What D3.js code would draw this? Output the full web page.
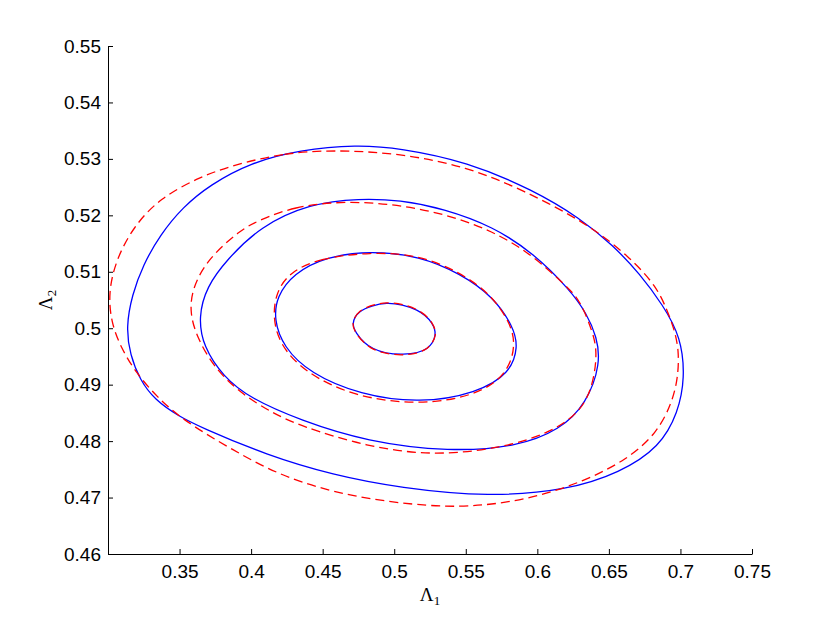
<!DOCTYPE html>
<html>
<head>
<meta charset="utf-8">
<script src="https://cdn.jsdelivr.net/npm/d3@7"></script>
<style>
  body { margin: 0; background: #fff; }
  .tick text { font-family: "Liberation Sans", Arial, sans-serif; font-size: 19px; fill: #000; }
  .lbl { font-family: "Liberation Serif", "DejaVu Serif", serif; font-size: 19px; fill: #000; }
</style>
</head>
<body>
<div id="chart"></div>
<script>
const xTicks = [0.35, 0.4, 0.45, 0.5, 0.55, 0.6, 0.65, 0.7, 0.75];
const yTicks = [0.46, 0.47, 0.48, 0.49, 0.5, 0.51, 0.52, 0.53, 0.54, 0.55];

// blue solid contours ([x, y])
const blue1 = [[0.4947,0.5044],[0.4761,0.5029],[0.4714,0.5009],[0.4738,0.4991],[0.4854,0.4964],[0.5063,0.4954],
  [0.5227,0.4964],[0.5285,0.4988],[0.5262,0.5009],[0.5157,0.5032]];
const blue2 = [[0.4831,0.5137],[0.4528,0.5127],[0.4295,0.5097],[0.4179,0.5056],[0.4160,0.5015],[0.4225,0.4967],
  [0.4411,0.4920],[0.4761,0.4882],[0.5180,0.4867],[0.5576,0.4885],[0.5809,0.4920],[0.5867,0.4967],
  [0.5832,0.5003],[0.5692,0.5056],[0.5460,0.5097],[0.5180,0.5128]];
const blue3 = [[0.4761,0.5230],[0.4411,0.5221],[0.4062,0.5180],[0.3829,0.5121],[0.3690,0.5074],[0.3631,0.5020],
  [0.3666,0.4967],[0.3806,0.4914],[0.3992,0.4876],[0.4342,0.4837],[0.4808,0.4799],[0.5390,0.4781],
  [0.5856,0.4790],[0.6158,0.4820],[0.6345,0.4867],[0.6443,0.4938],[0.6415,0.4985],[0.6345,0.5026],
  [0.6228,0.5068],[0.5972,0.5133],[0.5692,0.5180],[0.5343,0.5212],[0.5040,0.5227]];
const blue4 = [[0.4738,0.5325],[0.4342,0.5316],[0.3992,0.5293],[0.3713,0.5254],[0.3524,0.5215],[0.3363,0.5165],
  [0.3245,0.5112],[0.3168,0.5059],[0.3126,0.5002],[0.3154,0.4953],[0.3224,0.4908],[0.3328,0.4873],
  [0.3489,0.4845],[0.3643,0.4825],[0.4111,0.4775],[0.4572,0.4740],[0.5040,0.4717],[0.5669,0.4701],
  [0.6207,0.4713],[0.6578,0.4744],[0.6857,0.4790],[0.6983,0.4850],[0.7032,0.4912],[0.7004,0.4984],
  [0.6878,0.5041],[0.6717,0.5096],[0.6529,0.5147],[0.6298,0.5195],[0.5970,0.5245],[0.5509,0.5295],
  [0.5040,0.5319]];

// red dashed contours
const red1 = [[0.4947,0.5045],[0.4761,0.5030],[0.4712,0.5009],[0.4738,0.4990],[0.4854,0.4963],[0.5063,0.4953],
  [0.5227,0.4964],[0.5287,0.4988],[0.5262,0.5010],[0.5157,0.5033]];
const red2 = [[0.4831,0.5135],[0.4481,0.5124],[0.4272,0.5100],[0.4174,0.5064],[0.4151,0.5018],[0.4202,0.4970],
  [0.4377,0.4921],[0.4726,0.4878],[0.5180,0.4864],[0.5564,0.4880],[0.5788,0.4917],[0.5851,0.4970],
  [0.5809,0.5011],[0.5669,0.5062],[0.5446,0.5101],[0.5166,0.5130]];
const red3 = [[0.4644,0.5226],[0.4295,0.5215],[0.4062,0.5192],[0.3922,0.5174],[0.3690,0.5121],[0.3585,0.5068],
  [0.3573,0.5026],[0.3620,0.4985],[0.3736,0.4932],[0.3922,0.4885],[0.4155,0.4849],[0.4342,0.4827],
  [0.4808,0.4790],[0.5273,0.4774],[0.5739,0.4787],[0.6089,0.4814],[0.6321,0.4855],[0.6396,0.4908],
  [0.6417,0.4958],[0.6391,0.4991],[0.6298,0.5050],[0.6205,0.5074],[0.5926,0.5139],[0.5576,0.5186],
  [0.5110,0.5218]];
const red4 = [[0.4572,0.5316],[0.4223,0.5310],[0.3873,0.5289],[0.3643,0.5268],[0.3363,0.5231],[0.3175,0.5179],
  [0.3056,0.5121],[0.3003,0.5064],[0.3021,0.5011],[0.3091,0.4965],[0.3196,0.4921],[0.3342,0.4878],
  [0.3524,0.4837],[0.3873,0.4784],[0.4223,0.4736],[0.4691,0.4701],[0.5271,0.4683],[0.5620,0.4685],
  [0.5970,0.4699],[0.6319,0.4728],[0.6627,0.4767],[0.6836,0.4814],[0.6941,0.4868],[0.6983,0.4912],
  [0.6990,0.4961],[0.6955,0.5000],[0.6906,0.5032],[0.6836,0.5073],[0.6648,0.5126],[0.6347,0.5186],
  [0.5900,0.5245],[0.5509,0.5286],[0.5040,0.5310]];

const blueCurves = [blue1, blue2, blue3, blue4];
const redCurves = [red1, red2, red3, red4];

const W = 830, H = 625;
const margin = { top: 46, right: 78, bottom: 71, left: 108 };
const width = W - margin.left - margin.right,
  height = H - margin.top - margin.bottom;

const svg = d3.select("#chart").append("svg")
  .attr("width", W)
  .attr("height", H);

const g = svg.append("g")
  .attr("transform", "translate(" + margin.left + "," + margin.top + ")");

const x = d3.scaleLinear().domain([0.3, 0.75]).range([0, width]);
const y = d3.scaleLinear().domain([0.46, 0.55]).range([height, 0]);

// small rings go through the points, bigger ones get a smoothing spline
// (hand read points are a bit noisy)
const lineThrough = d3.line()
  .x(d => x(d[0]))
  .y(d => y(d[1]))
  .curve(d3.curveCatmullRomClosed.alpha(0.5));
const lineSmooth = d3.line()
  .x(d => x(d[0]))
  .y(d => y(d[1]))
  .curve(d3.curveBasisClosed);
const path = d => (d.length > 12 ? lineSmooth(d) : lineThrough(d));

g.selectAll(".blue")
  .data(blueCurves)
  .enter().append("path")
  .attr("class", "blue")
  .attr("d", path)
  .attr("fill", "none")
  .attr("stroke", "#0000ff")
  .attr("stroke-width", 1.3);

g.selectAll(".red")
  .data(redCurves)
  .enter().append("path")
  .attr("class", "red")
  .attr("d", path)
  .attr("fill", "none")
  .attr("stroke", "#ff0000")
  .attr("stroke-width", 1.3)
  .attr("stroke-dasharray", "9,5");

// axes, ticks inward like matlab
const xAxis = g.append("g")
  .attr("transform", "translate(0," + height + ")")
  .call(d3.axisBottom(x).tickValues(xTicks).tickSize(-5).tickPadding(11)
    .tickFormat(d => String(+d.toFixed(2))));
xAxis.select(".domain").attr("d", "M0.5,0.5H" + (width + 0.5));

const yAxis = g.append("g")
  .call(d3.axisLeft(y).tickValues(yTicks).tickSize(-5).tickPadding(7)
    .tickFormat(d => String(+d.toFixed(2))));
yAxis.select(".domain").attr("d", "M0.5," + (height + 0.5) + "V0.5");

svg.selectAll(".domain").attr("stroke", "#000").attr("stroke-width", 1);
svg.selectAll(".tick line").attr("stroke", "#000");

// axis labels
const xl = svg.append("text")
  .attr("class", "lbl")
  .attr("x", margin.left + width / 2)
  .attr("y", 601)
  .attr("text-anchor", "middle");
xl.append("tspan").text("Λ");
xl.append("tspan").attr("font-size", "13px").attr("dy", 4).text("1");

const yl = svg.append("text")
  .attr("class", "lbl")
  .attr("transform", "translate(52," + (margin.top + height / 2) + ") rotate(-90)")
  .attr("text-anchor", "middle");
yl.append("tspan").text("Λ");
yl.append("tspan").attr("font-size", "13px").attr("dy", 4).text("2");
</script>
</body>
</html>
